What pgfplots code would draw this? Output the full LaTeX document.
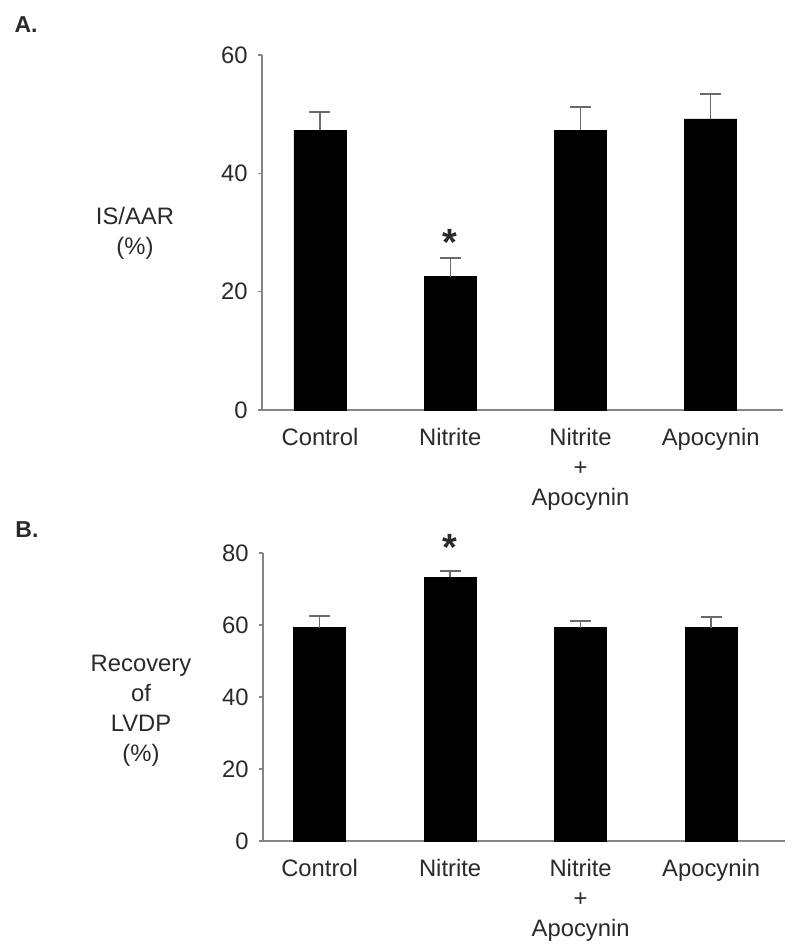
\documentclass[border=0pt]{standalone}
\usepackage{pgfplots}
\pgfplotsset{compat=1.18}
\usepackage{fontspec}
\setmainfont{Liberation Sans}
\definecolor{axgray}{HTML}{858585}
\definecolor{txt}{HTML}{2A2A2A}
\begin{document}
\begin{tikzpicture}
\useasboundingbox (0pt,0pt) rectangle (400pt,475pt);
\pgfplotsset{
  mybars/.style={
    scale only axis,
    axis x line*=bottom, axis y line*=left,
    axis line style={axgray, line width=0.7pt},
    xtick={0,1,2,3},
    xticklabels={Control,Nitrite,Nitrite\\+\\Apocynin,Apocynin},
    xtick style={draw=none},
    ytick style={axgray, line width=0.7pt},
    ytick align=outside, major tick length=2pt,
    /pgf/number format/assume math mode=true,
    tick label style={font=\fontsize{11.9}{15}\selectfont, text=txt},
    xticklabel style={align=center, anchor=north, inner sep=0pt, yshift=-9pt},
    yticklabel style={anchor=east, inner sep=0pt, xshift=-5pt},
    clip=false,
  },
  mybarplot/.style={
    ybar, bar width=0.4, fill=black, draw=black, mark=none,
    error bars/.cd, y dir=plus, y explicit,
    error bar style={axgray!80!black, line width=0.7pt},
    error mark options={axgray!80!black, line width=0.7pt, mark size=5.25pt, rotate=90},
  },
}
% Panel A
\begin{axis}[mybars,
  at={(131pt,270pt)}, anchor=south west,
  width=260.5pt, height=177.5pt,
  xmin=-0.445, xmax=3.555, ymin=0, ymax=60,
  ytick={0,20,40,60}]
\addplot[mybarplot] coordinates {
  (0,47.3) +- (0,3.1)
  (1,22.5) +- (0,3.2)
  (2,47.3) +- (0,3.9)
  (3,49.2) +- (0,4.2)
};
\node[font=\fontsize{19}{19}\selectfont\bfseries, text=txt] at (axis cs:1,28.4) {*};
\end{axis}
% Panel B
\begin{axis}[mybars,
  at={(131.5pt,54.5pt)}, anchor=south west,
  width=261pt, height=144pt,
  xmin=-0.434, xmax=3.566, ymin=0, ymax=80,
  ytick={0,20,40,60,80}]
\addplot[mybarplot] coordinates {
  (0,59.2) +- (0,3.3)
  (1,73.3) +- (0,1.7)
  (2,59.2) +- (0,1.9)
  (3,59.2) +- (0,3.0)
};
\node[font=\fontsize{19}{19}\selectfont\bfseries, text=txt] at (axis cs:1,81.6) {*};
\end{axis}
% panel letters and y labels
\node[font=\fontsize{11.5}{14}\selectfont\bfseries, text=txt] at (13pt,462.5pt) {A.};
\node[font=\fontsize{11.5}{14}\selectfont\bfseries, text=txt] at (13.5pt,210pt) {B.};
\node[font=\fontsize{11.9}{15}\selectfont, text=txt, align=center] at (67.5pt,358.5pt) {IS/AAR\\(\%)};
\node[font=\fontsize{11.9}{15}\selectfont, text=txt, align=center] at (70.5pt,119.5pt) {Recovery\\of\\LVDP\\(\%)};
\end{tikzpicture}
\end{document}
